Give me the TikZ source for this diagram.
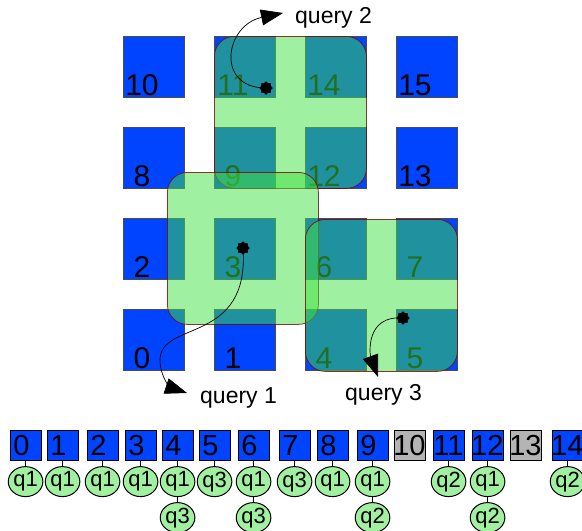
\documentclass[tikz,border=0pt]{standalone}
\usepackage{fontspec}
\setmainfont{Liberation Sans}
\usetikzlibrary{shapes.geometric,arrows.meta,calc}
\definecolor{sqblue}{RGB}{0,68,255}
\definecolor{qgreen}{RGB}{64,225,65}
\definecolor{lgreen}{RGB}{160,240,160}
\definecolor{boxgray}{RGB}{180,180,180}
\definecolor{qborder}{RGB}{128,0,0}
\begin{document}
\begin{tikzpicture}[x=1pt,y=-1pt,
 sq/.style={draw=black!70, fill=sqblue, minimum size=61pt, inner sep=0, anchor=north west, line width=0.6pt},
 sqnum/.style={font=\fontsize{30}{30}\selectfont, anchor=base, inner sep=0},
 qrect/.style={draw=qborder, draw opacity=0.8, fill=qgreen, fill opacity=0.5, rounded corners=20pt, line width=0.8pt, inner sep=0, anchor=north west},
 qpt/.style={star, star points=8, star point ratio=1.3, fill=black, inner sep=0, minimum size=13pt},
 qlab/.style={font=\fontsize{23}{23}\selectfont, anchor=base west, inner sep=0},
 qarrow/.style={-{Triangle[length=22pt,width=16pt]}, line width=0.7pt},
 bx/.style={draw=black, fill=sqblue, minimum width=30.5pt, minimum height=30pt, inner sep=0, anchor=north west, line width=0.6pt},
 gbx/.style={bx, fill=boxgray},
 bnum/.style={font=\fontsize{29}{29}\selectfont, anchor=base, inner sep=0},
 qe/.style={ellipse, draw=black, fill=lgreen, minimum width=33pt, minimum height=30pt, inner sep=0, line width=1pt, font=\fontsize{22}{22}\selectfont},
 lnk/.style={line width=1.5pt}]
\useasboundingbox (0,0) rectangle (582,531);
% grid of squares
\foreach \n/\c/\r in {10/0/0, 11/1/0, 14/2/0, 15/3/0, 8/0/1, 9/1/1, 12/2/1, 13/3/1, 2/0/2, 3/1/2, 6/2/2, 7/3/2, 0/0/3, 1/1/3, 4/2/3, 5/3/3}{
  \node[sq] (s\n) at (123+91*\c, 36+91*\r) {};
  \node[sqnum] (sn\n) at (123+91*\c+19, 36+91*\r+59) {\n};
}
% query regions
\node[qrect, minimum width=152pt, minimum height=152pt] (r2) at (214,36) {};
\node[qrect, minimum width=151pt, minimum height=152pt] (r1) at (167,172) {};
\node[qrect, minimum width=152pt, minimum height=152pt] (r3) at (305,219) {};
% query points, tips and labels
\node[qpt] (p2) at (266,88) {};
\node[qpt] (p1) at (243,248) {};
\node[qpt] (p3) at (403,318) {};
\coordinate (t2) at (283,13);
\coordinate (t1) at (187,393);
\coordinate (t3) at (378,377);
\node[qlab] (l2) at (295,23) {query 2};
\node[qlab] (l1) at (200,403) {query 1};
\node[qlab] (l3) at (345,400) {query 3};
\draw[qarrow] (p2.center) .. controls (215,88) and (225,25) .. (t2);
\draw[qarrow] (p1.center) .. controls (250,345) and (160,320) .. (160,360) .. controls (160,378) and (172,388) .. (t1);
\draw[qarrow] (p3.center) .. controls (365,315) and (370,355) .. (t3);
\node[qpt] at (p2) {};
\node[qpt] at (p1) {};
\node[qpt] at (p3) {};
% bucket row
\foreach \n/\x/\s in {0/10/bx, 1/47/bx, 2/87/bx, 3/125/bx, 4/162/bx, 5/199/bx, 6/238/bx, 7/279/bx, 8/317/bx, 9/357/bx, 10/394/gbx, 11/433/bx, 12/472/bx, 13/510/gbx, 14/552/bx}{
  \node[\s] (b\n) at (\x,430) {};
  \ifnum\n<10
    \node[bnum] (bn\n) at (\x+11.5,455) {\n};
  \else
    \node[bnum] (bn\n) at (\x+15.5,455) {\n};
  \fi
}
\foreach \n/\q in {0/q1,1/q1,2/q1,3/q1,4/q1,5/q3,6/q1,7/q3,8/q1,9/q1,11/q2,12/q1,14/q2}{
  \node[qe] (e\n) at ($(b\n.south)+(0,21)$) {\q};
  \draw[lnk] (b\n) -- (e\n);
}
\foreach \n/\q in {4/q3,6/q3,9/q2,12/q2}{
  \node[qe] (f\n) at ($(e\n)+(0,36)$) {\q};
  \draw[lnk] (e\n) -- (f\n);
}
\end{tikzpicture}
\end{document}
